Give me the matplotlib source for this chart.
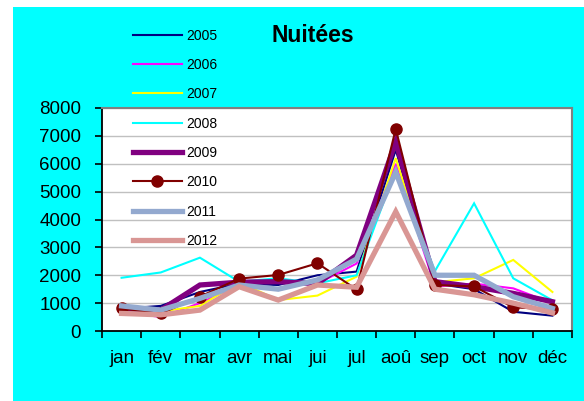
import matplotlib
matplotlib.use("Agg")
import matplotlib.pyplot as plt
from matplotlib.patches import Rectangle
from matplotlib.ticker import MultipleLocator, FixedLocator

plt.rcParams['font.family'] = ['Liberation Sans', 'DejaVu Sans']

months = ["jan", "fév", "mar", "avr", "mai", "jui", "jul", "aoû", "sep", "oct", "nov", "déc"]
years = ["2005", "2006", "2007", "2008", "2009", "2010", "2011", "2012"]

v2005 = [800, 900, 1400, 1700, 1650, 2000, 2130, 6500, 1700, 1500, 690, 550]
v2006 = [700, 500, 1000, 1650, 1800, 1700, 2420, 6000, 1600, 1700, 1530, 1000]
v2007 = [750, 700, 900, 1750, 1110, 1270, 1950, 6200, 1750, 1890, 2550, 1400]
v2008 = [1910, 2100, 2630, 1770, 1890, 1710, 2000, 5800, 2150, 4580, 1890, 1100]
v2009 = [800, 750, 1650, 1750, 1770, 1700, 2720, 6790, 1770, 1590, 1350, 1050]
v2010 = [810, 630, 1230, 1880, 2010, 2430, 1490, 7250, 1650, 1600, 850, 780]
v2011 = [900, 750, 1170, 1650, 1500, 1830, 2580, 5700, 2000, 2000, 1230, 810]
v2012 = [630, 580, 750, 1590, 1110, 1650, 1570, 4280, 1500, 1300, 1000, 650]

series = [v2005, v2006, v2007, v2008, v2009, v2010, v2011, v2012]
colors = ["#000080", "#FF00FF", "#FFFF00", "#00FFFF", "#800080", "#800000", "#93A9CF", "#D99694"]
widths = [1.5, 1.5, 1.5, 1.5, 3.8, 1.5, 3.8, 3.8]
markers = [None, None, None, None, None, "o", None, None]

W, H = 584, 401
fig = plt.figure(figsize=(W / 100, H / 100), dpi=100)
fig.patch.set_facecolor("white")
fig.patches.append(Rectangle((13 / W, 0), 1 - 13 / W, 1 - 7 / H, transform=fig.transFigure,
                             facecolor="#00FFFF", edgecolor="none", zorder=-10))

left, right, top, bottom = 102, 572, 108, 331
ax = fig.add_axes([left / W, 1 - bottom / H, (right - left) / W, (bottom - top) / H])
ax.set_zorder(1)
ax.set_facecolor("white")

x = list(range(len(months)))
for yr, vals, c, lw, m in zip(years, series, colors, widths, markers):
    ax.plot(x, vals, color=c, lw=lw, marker=m, markersize=8 if m else 0,
            markerfacecolor=c, markeredgecolor=c, label=yr, solid_joinstyle="miter", zorder=3)

ax.set_xlim(-0.5, len(months) - 0.5)
ax.set_ylim(0, 8000)
ax.yaxis.set_major_locator(MultipleLocator(1000))
ax.grid(axis="y", color="#C0C0C0", lw=1.0, zorder=1)
ax.set_axisbelow(True)

ax.set_xticks(x)
ax.set_xticklabels(months)
ax.xaxis.set_minor_locator(FixedLocator([i - 0.5 for i in range(len(months) + 1)]))
ax.tick_params(axis="x", which="major", length=0, pad=13.5, labelsize=13.5)
ax.tick_params(axis="x", which="minor", length=5, width=1.2, color="black", direction="out")
ax.tick_params(axis="y", length=5, width=1.2, direction="out", pad=10, labelsize=13.5)

for s in ["left", "bottom"]:
    ax.spines[s].set_color("black")
    ax.spines[s].set_linewidth(1.3)
for s in ["top", "right"]:
    ax.spines[s].set_color("#808080")
    ax.spines[s].set_linewidth(1.5)

fig.text(313 / W, 1 - 35 / H, "Nuitées", fontsize=16.5, fontweight="bold", ha="center", va="center")

leg = fig.legend(loc="upper left", bbox_to_anchor=(133 / W, 1 - 28.5 / H), frameon=False,
                 fontsize=10, handlelength=3.5, handletextpad=0.35, labelspacing=1.105,
                 borderpad=0, borderaxespad=0)
leg.set_zorder(5)

fig.savefig("out.png", dpi=100, facecolor=fig.get_facecolor())
